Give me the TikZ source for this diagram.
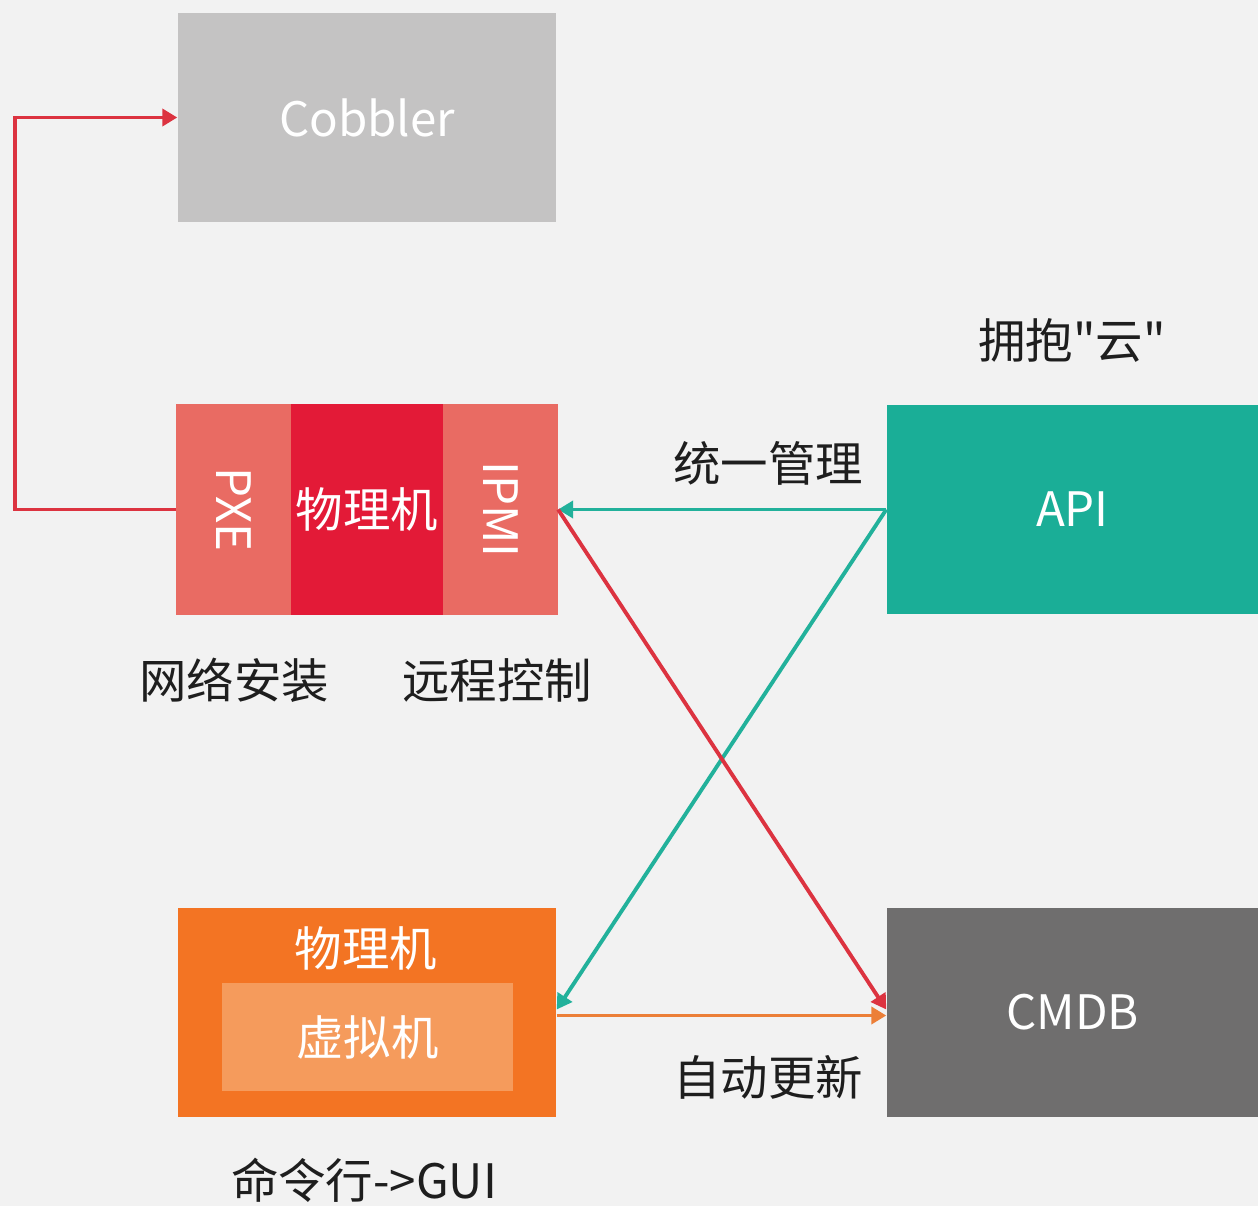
\documentclass[tikz,border=0pt]{standalone}
\usepackage{fontspec}
\usepackage{graphicx}
\setmainfont{Noto Sans CJK SC}
\newfontfamily\plainquote{Noto Sans CJK SC}
\usetikzlibrary{positioning,arrows.meta}

\definecolor{bgcol}{HTML}{F2F2F2}
\definecolor{cobblergray}{HTML}{C4C3C3}
\definecolor{pxesalmon}{HTML}{E96B63}
\definecolor{physred}{HTML}{E31A37}
\definecolor{apiteal}{HTML}{1AAE97}
\definecolor{cmdbgray}{HTML}{6F6E6E}
\definecolor{hostorange}{HTML}{F37423}
\definecolor{vmorange}{HTML}{F59B5C}
\definecolor{redline}{HTML}{DC3340}
\definecolor{tealline}{HTML}{22B19B}
\definecolor{orangeline}{HTML}{EC7F38}
\definecolor{labeltext}{HTML}{1E1E1E}

\begin{document}
\begin{tikzpicture}[
    every node/.style={font=\fontsize{13.5}{16}\selectfont},
    bigbox/.style={minimum width=3.78cm, minimum height=2.09cm, inner sep=0pt, text=white},
    sidebox/.style={minimum width=3.71cm, minimum height=2.09cm, inner sep=0pt, text=white},
    part/.style={minimum height=2.09cm, inner sep=0pt, text=white, fill=#1, draw=#1, line width=0.4pt},
    caption/.style={text=labeltext, inner sep=0pt},
    link/.style={line width=1.1pt, -{Triangle[length=1.5mm,width=1.7mm]}}
  ]
  \fill[bgcol] (0,0) rectangle (12.58,-12.06);
  \useasboundingbox (0,0) rectangle (12.58,-12.06);

  % boxes
  \node[bigbox, fill=cobblergray] (cobbler) at (3.67,-1.175) {Cobbler};

  \node[part=physred, minimum width=1.50cm] (phys) at (3.67,-5.095) {物理机};
  \node[part=pxesalmon, minimum width=1.14cm, left=0pt of phys] (pxe) {\rotatebox{-90}{PXE}};
  \node[part=pxesalmon, minimum width=1.14cm, right=0pt of phys] (ipmi) {\rotatebox{-90}{IPMI}};

  \node[sidebox, fill=apiteal] (api) at (10.725,-5.095) {API};
  \node[sidebox, fill=cmdbgray] (cmdb) at (10.725,-10.125) {CMDB};

  \node[bigbox, fill=hostorange] (host) at (3.67,-10.125) {};
  \node[fill=vmorange, minimum width=2.91cm, minimum height=1.08cm, inner sep=0pt, text=white] (vm) at (3.675,-10.37) {虚拟机};
  \node[text=white, inner sep=0pt] (hostlabel) at (3.66,-9.48) {物理机};

  % labels
  \node[caption] (cloud) at (10.72,-3.40) {拥抱{\plainquote"}云{\plainquote"}};
  \node[caption] (manage) at (7.68,-4.63) {统一管理};
  \node[caption] (install) at (2.34,-6.80) {网络安装};
  \node[caption] (remote) at (4.97,-6.80) {远程控制};
  \node[caption] (update) at (7.68,-10.77) {自动更新};
  \node[caption] (cli) at (3.64,-11.80) {命令行->GUI};

  % connectors
  \coordinate (bend) at (0.15,-5.095);
  \draw[link, redline] (pxe.west) -- (bend) |- (cobbler.west);
  \draw[link, tealline] (api.west) -- (ipmi.east);
  \draw[link, tealline] (api.west) -- ([yshift=0.03cm]host.east);
  \draw[link, redline] (ipmi.east) -- ([yshift=0.03cm]cmdb.west);
  \draw[link, orangeline] ([yshift=-0.03cm]host.east) -- ([yshift=-0.03cm]cmdb.west);
\end{tikzpicture}
\end{document}
